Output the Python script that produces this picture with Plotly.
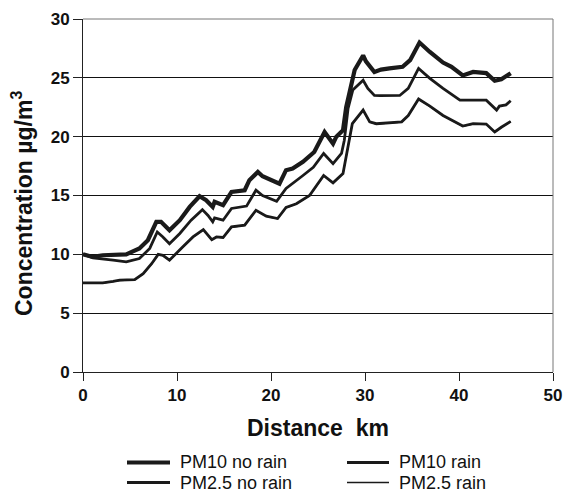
import plotly.graph_objects as go

# Concentration profiles along the route (distance in km, concentration in µg/m³)
pm10_dry_km = [0, 1.06, 2.1, 4.6, 6.0, 6.9, 7.8, 8.3, 9.2, 10.3, 11.35, 12.4, 13.1, 13.8, 14.0,
               14.9, 15.8, 17.2, 17.7, 18.6, 19.1, 19.9, 20.9, 21.6, 22.3, 23.4, 24.6, 25.7,
               26.6, 26.95, 27.66, 28.0, 28.9, 29.8, 30.1, 31.0, 31.7, 32.6, 34.0, 34.8, 35.8,
               36.9, 38.3, 39.2, 40.4, 41.5, 42.9, 43.8, 44.5, 45.5]
pm10_dry = [10.0, 9.78, 9.92, 10.0, 10.5, 11.2, 12.76, 12.76, 12.05, 12.9, 14.03, 14.94, 14.6,
            14.03, 14.46, 14.18, 15.3, 15.45, 16.3, 17.0, 16.64, 16.36, 16.0, 17.15, 17.3,
            17.86, 18.7, 20.4, 19.4, 20.0, 20.55, 22.5, 25.66, 26.9, 26.4, 25.5, 25.7, 25.8,
            25.94, 26.5, 28.0, 27.2, 26.3, 25.94, 25.2, 25.5, 25.4, 24.75, 24.87, 25.4]

pm10_rain_km = [0, 1.06, 3.2, 4.6, 6.0, 7.1, 7.9, 8.5, 9.2, 10.3, 11.5, 12.7, 13.3, 13.8, 14.0,
                14.9, 15.8, 17.4, 18.4, 19.1, 20.6, 21.6, 23.4, 24.5, 25.6, 26.6, 27.5, 27.8,
                28.2, 28.7, 29.8, 30.3, 31.0, 31.6, 33.7, 34.6, 35.7, 36.9, 38.3, 40.1, 40.8,
                42.9, 44.0, 44.3, 45.0, 45.5]
pm10_rain = [10.0, 9.7, 9.5, 9.36, 9.64, 10.5, 11.9, 11.48, 10.9, 11.77, 12.9, 13.8, 13.3,
             12.76, 13.1, 12.9, 13.9, 14.1, 15.45, 15.0, 14.5, 15.6, 16.7, 17.4, 18.57, 17.7,
             18.57, 19.7, 22.4, 23.96, 24.8, 24.1, 23.5, 23.48, 23.5, 24.1, 25.8, 24.95, 24.1,
             23.1, 23.1, 23.1, 22.26, 22.6, 22.7, 23.05]

pm25_dry_km = [0, 2.1, 3.2, 3.9, 5.5, 6.4, 7.3, 8.0, 8.5, 9.2, 10.6, 11.7, 12.8, 13.7, 14.2,
               14.9, 15.8, 17.2, 18.4, 19.5, 20.7, 21.6, 22.7, 24.1, 25.6, 26.6, 27.66, 28.1,
               28.65, 29.8, 30.5, 31.2, 33.0, 33.9, 34.6, 35.7, 36.9, 38.3, 40.4, 41.5, 42.9,
               43.8, 44.5, 45.5]
pm25_dry = [7.57, 7.57, 7.7, 7.8, 7.85, 8.36, 9.2, 10.0, 9.92, 9.5, 10.63, 11.48, 12.1, 11.25,
            11.48, 11.43, 12.33, 12.48, 13.75, 13.24, 13.04, 13.98, 14.3, 15.0, 16.7, 16.08,
            16.87, 18.7, 21.1, 22.26, 21.26, 21.1, 21.2, 21.26, 21.8, 23.2, 22.6, 21.8, 20.9,
            21.1, 21.07, 20.4, 20.8, 21.3]

pm25_rain_km = [0, 2.1, 3.2, 3.9, 5.5, 6.4, 7.3, 8.0, 8.5, 9.2, 10.6, 11.7, 12.8, 13.7, 14.2,
                14.9, 15.8, 17.2, 18.4, 19.5, 20.7, 21.6, 22.7, 24.1, 25.6, 26.6, 27.66, 28.1,
                28.65, 29.8, 30.5, 31.2, 33.0, 33.9, 34.6, 35.7, 36.9, 38.3, 40.4, 41.5, 42.9,
                43.8, 44.5, 45.5]
pm25_rain = [7.55, 7.55, 7.68, 7.78, 7.83, 8.34, 9.18, 9.98, 9.9, 9.48, 10.6, 11.45, 12.08,
             11.23, 11.46, 11.41, 12.3, 12.46, 13.72, 13.22, 13.02, 13.95, 14.28, 14.98, 16.68,
             16.06, 16.85, 18.68, 21.08, 22.24, 21.24, 21.08, 21.18, 21.24, 21.78, 23.18, 22.58,
             21.78, 20.88, 21.08, 21.05, 20.38, 20.78, 21.28]

series_names = ["PM10 no rain", "PM10 rain", "PM2.5 no rain", "PM2.5 rain"]
x_ticks = [0, 10, 20, 30, 40, 50]
y_ticks = [0, 5, 10, 15, 20, 25, 30]

FONT = "Liberation Sans, Arial, sans-serif"
INK = "#1a1a1a"

series = [
    (pm10_dry_km, pm10_dry, 4.2),
    (pm10_rain_km, pm10_rain, 2.8),
    (pm25_dry_km, pm25_dry, 2.8),
    (pm25_rain_km, pm25_rain, 1.4),
]

fig = go.Figure()
for name, (xs, ys, w) in zip(series_names, series):
    fig.add_trace(go.Scatter(x=xs, y=ys, mode="lines", name=name,
                             line=dict(color=INK, width=w), showlegend=False))

fig.update_layout(
    width=563, height=494,
    margin=dict(l=83, r=10, t=19, b=122, autoexpand=False),
    paper_bgcolor="white", plot_bgcolor="white",
    font=dict(family=FONT, color="#111"),
    xaxis=dict(range=[0, 50], tickvals=x_ticks, showgrid=False, zeroline=False,
               showline=True, linecolor="#222", linewidth=1, automargin=False,
               ticks="outside", ticklen=8, tickcolor="#222",
               tickfont=dict(family=FONT, size=17, color="#111", weight="bold")),
    yaxis=dict(range=[0, 30], tickvals=y_ticks, showgrid=True, gridcolor="#111",
               gridwidth=1, zeroline=False, showline=True, linecolor="#222",
               linewidth=1, ticks="outside", ticklen=9, tickcolor="#222", automargin=False,
               tickfont=dict(family=FONT, size=17, color="#111", weight="bold")),
)

# thin grey frame on top and right
fig.add_shape(type="line", xref="paper", yref="paper", x0=0, x1=1, y0=1, y1=1,
              line=dict(color="#777", width=1))
fig.add_shape(type="line", xref="paper", yref="paper", x0=1, x1=1, y0=0, y1=1,
              line=dict(color="#777", width=1))

# axis titles
fig.add_annotation(text="<b>Distance  km</b>", xref="paper", yref="paper",
                   x=0.5, y=-56 / 353, yanchor="middle", showarrow=False,
                   font=dict(family=FONT, size=23, color="#111"))
fig.add_annotation(text="<b>Concentration µg/m<sup>3</sup></b>", xref="paper", yref="paper",
                   x=-61 / 470, y=(372 - 204) / 353, xanchor="center", yanchor="middle",
                   textangle=-90, showarrow=False,
                   font=dict(family=FONT, size=23, color="#111"))

# legend key: two columns, two rows
plot_w, plot_h = 470, 353
def px_x(p):
    return (p - 83) / plot_w
def px_y(p):
    return (372 - p) / plot_h

key_rows = [462.5, 482.5]
key_cols = [(127, 170, 178), (347, 389, 397)]
for i, (name, (_, _, w)) in enumerate(zip(series_names, series)):
    r, c = divmod(i, 2)
    x0, x1, tx = key_cols[c]
    y = key_rows[r]
    fig.add_shape(type="line", xref="paper", yref="paper",
                  x0=px_x(x0), x1=px_x(x1), y0=px_y(y), y1=px_y(y),
                  line=dict(color=INK, width=w))
    fig.add_annotation(text=name, xref="paper", yref="paper",
                       x=px_x(tx), y=px_y(y), xanchor="left", yanchor="middle",
                       showarrow=False, font=dict(family=FONT, size=18, color="#111"))

fig.write_html("out.html")
